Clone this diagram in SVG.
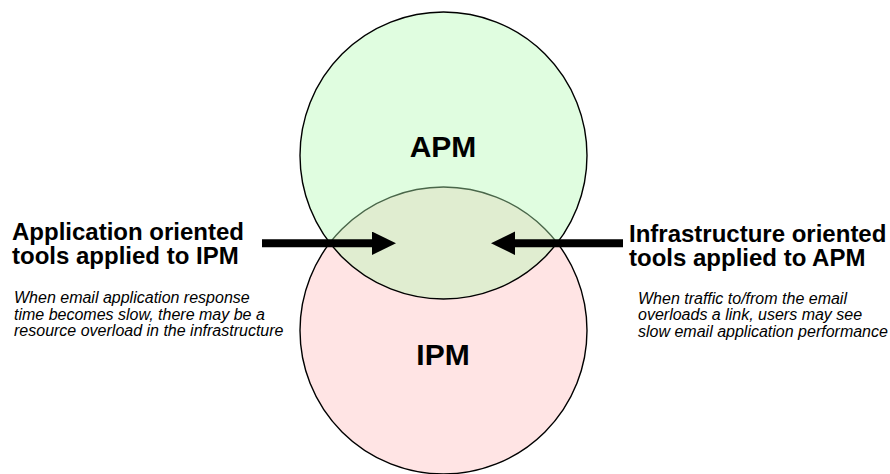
<svg xmlns="http://www.w3.org/2000/svg" width="890" height="474" viewBox="0 0 890 474">
  <defs>
    <style>
      .ring { stroke: #000; stroke-width: 1.4; }
      .ipm { fill: #ffe4e4; }
      .apm { fill: #b3fab3; fill-opacity: 0.41; }
      .big { font-family: "Liberation Sans", Arial, sans-serif; font-weight: bold; font-size: 30px; fill: #000; text-anchor: middle; }
      .head { font-family: "Liberation Sans", Arial, sans-serif; font-weight: bold; font-size: 24px; fill: #000; }
      .note { font-family: "Liberation Sans", Arial, sans-serif; font-style: italic; font-size: 16px; fill: #000; }
      .shaft { stroke: #000; stroke-width: 8; fill: none; }
    </style>
    <marker id="arrowhead" markerUnits="userSpaceOnUse" markerWidth="25" markerHeight="24" refX="0" refY="11.75" orient="auto">
      <path d="M0,0 L24,11.75 L0,23.5 Z" fill="#000"/>
    </marker>
  </defs>

  <rect width="890" height="474" fill="#fff"/>

  <!-- IPM circle (drawn first so the APM fill tints the overlap) -->
  <g id="ipm">
    <circle class="ring ipm" cx="443.5" cy="330.5" r="143.5"/>
    <text class="big" x="443" y="365">IPM</text>
  </g>

  <!-- APM circle, translucent -->
  <g id="apm">
    <circle class="ring apm" cx="443.5" cy="155.5" r="143.5"/>
    <text class="big" x="443" y="157">APM</text>
  </g>

  <!-- left caption -->
  <g id="app-tools">
    <text class="head" x="12" y="240">Application oriented</text>
    <text class="head" x="12" y="264">tools applied to IPM</text>
    <text class="note" x="14" y="303">When email application response</text>
    <text class="note" x="14" y="320">time becomes slow, there may be a</text>
    <text class="note" x="14" y="336">resource overload in the infrastructure</text>
  </g>

  <!-- right caption -->
  <g id="infra-tools">
    <text class="head" x="629" y="242">Infrastructure oriented</text>
    <text class="head" x="629" y="266">tools applied to APM</text>
    <text class="note" x="638" y="304">When traffic to/from the email</text>
    <text class="note" x="638" y="320">overloads a link, users may see</text>
    <text class="note" x="638" y="337">slow email application performance</text>
  </g>

  <!-- arrows into the overlap -->
  <g id="connectors">
    <line class="shaft" x1="262" y1="243.3" x2="372" y2="243.3" marker-end="url(#arrowhead)"/>
    <line class="shaft" x1="623" y1="243.3" x2="515" y2="243.3" marker-end="url(#arrowhead)"/>
  </g>
</svg>
